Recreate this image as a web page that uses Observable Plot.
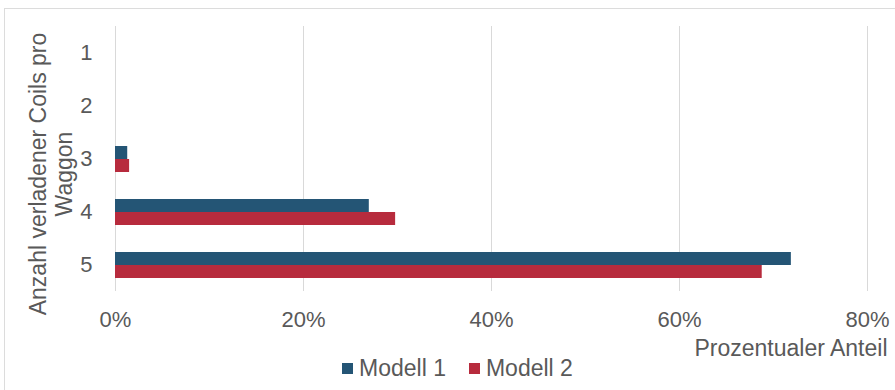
<!DOCTYPE html>
<html>
<head>
<meta charset="utf-8">
<script src="https://cdn.jsdelivr.net/npm/d3@7"></script>
<script src="https://cdn.jsdelivr.net/npm/@observablehq/plot@0.6"></script>
<style>
  html, body { margin: 0; padding: 0; background: #ffffff; }
  body { font-family: "Liberation Sans", Arial, Helvetica, sans-serif; }
  #wrap { position: relative; width: 895px; height: 390px; overflow: hidden; }
  #border { position: absolute; left: 4px; top: 8px; width: 1000px; height: 500px;
            border-left: 1px solid #dcdcdc; border-top: 1px solid #dcdcdc; pointer-events: none; }
  #chart { position: absolute; left: 0; top: 0; }
  #legend { position: absolute; left: 0; top: 356px; width: 895px; height: 24px;
            display: flex; align-items: center; font-size: 23px; color: #595959; }
  .item { display: flex; align-items: center; }
  .sw { width: 11px; height: 11px; margin-right: 6px; }
</style>
</head>
<body>
<div id="wrap">
  <div id="border"></div>
  <div id="chart"></div>
  <div id="legend"></div>
</div>
<script>
// Data
const categories = ["1", "2", "3", "4", "5"];
const series = ["Modell 1", "Modell 2"];
const modell1 = [0, 0, 1.3, 27.0, 71.9];
const modell2 = [0, 0, 1.5, 29.8, 68.8];
const xTicks = [0, 20, 40, 60, 80];
const colors = ["#245575", "#b72b3d"];
const xTitle = "Prozentualer Anteil";
const yTitle = "Anzahl verladener Coils pro\nWaggon";

const rows = [];
categories.forEach((c, i) => {
  rows.push({cat: c, series: series[0], value: modell1[i]});
  rows.push({cat: c, series: series[1], value: modell2[i]});
});

const font = "Liberation Sans, Arial, Helvetica, sans-serif";

const chart = Plot.plot({
  width: 895,
  height: 390,
  marginLeft: 115,
  marginRight: 28,
  marginTop: 24,
  marginBottom: 97,
  style: {fontFamily: font, background: "transparent", color: "#595959", overflow: "visible"},
  x: {domain: [0, 80], axis: null},
  y: {domain: series, paddingInner: 0, paddingOuter: 0.92, axis: null},
  fy: {domain: categories, padding: 0, axis: null},
  color: {domain: series, range: colors},
  marks: [
    Plot.gridX(xTicks, {stroke: "#d9d9d9", strokeOpacity: 1, strokeWidth: 1}),
    Plot.ruleX([0], {stroke: "#d9d9d9", strokeWidth: 1}),
    Plot.barX(rows, {x: "value", y: "series", fy: "cat", fill: "series"}),
    Plot.axisX(xTicks, {anchor: "bottom", tickSize: 0, tickPadding: 20, fontSize: 22,
      tickFormat: d => d + "%", label: null, fill: "#595959"}),
    Plot.axisFy({anchor: "left", tickSize: 0, tickPadding: 23, fontSize: 22,
      label: null, fill: "#595959"}),
    Plot.text([xTitle], {facet: "super", frameAnchor: "bottom-right", textAnchor: "end",
      lineAnchor: "bottom", dx: 20, dy: 64, fontSize: 23, fill: "#595959"}),
    Plot.text([yTitle], {facet: "super", frameAnchor: "left", rotate: -90, lineAnchor: "middle",
      textAnchor: "middle", lineHeight: 1.13, dx: -65, dy: 15, fontSize: 23, fill: "#595959"})
  ]
});
document.getElementById("chart").appendChild(chart);

const legend = document.getElementById("legend");
const inner = document.createElement("div");
inner.style.display = "flex";
inner.style.marginLeft = "342px";
series.forEach((s, i) => {
  const it = document.createElement("div");
  it.className = "item";
  if (i > 0) it.style.marginLeft = "23px";
  const sw = document.createElement("div");
  sw.className = "sw";
  sw.style.background = colors[i];
  const t = document.createElement("span");
  t.textContent = s;
  it.appendChild(sw);
  it.appendChild(t);
  inner.appendChild(it);
});
legend.appendChild(inner);
</script>
</body>
</html>
